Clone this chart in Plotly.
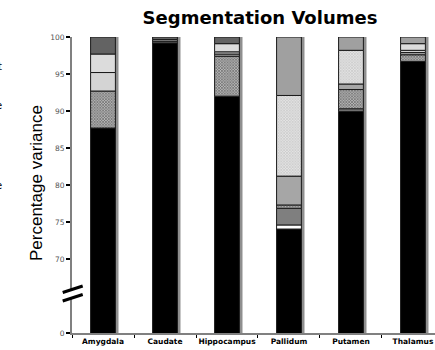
import numpy as np
import plotly.graph_objects as go

regions = ["Amygdala", "Caudate", "Hippocampus", "Pallidum", "Putamen", "Thalamus"]

# stacked components, bottom to top (percentage of variance)
comp_black      = [87.7, 99.2, 92.0, 74.05, 89.95, 96.7]
comp_white      = [0.0, 0.15, 0.0, 0.55, 0.0, 0.0]
comp_gray       = [0.0, 0.0, 0.0, 2.25, 0.35, 0.0]
comp_checker    = [5.0, 0.1, 5.4, 0.45, 2.6, 0.9]
comp_midgray    = [0.0, 0.0, 0.3, 3.9, 0.75, 0.3]
comp_lightcheck = [0.0, 0.0, 0.0, 10.9, 4.55, 0.0]
comp_light1     = [2.5, 0.2, 0.3, 0.0, 0.0, 0.3]
comp_light2     = [2.5, 0.0, 1.1, 0.0, 0.0, 0.9]
comp_silver     = [0.0, 0.0, 0.0, 7.9, 1.8, 0.9]
comp_dark       = [2.3, 0.35, 0.9, 0.0, 0.0, 0.0]

y_tick_vals = [60, 70, 75, 80, 85, 90, 95, 100]
y_tick_text = ["0", "70", "75", "80", "85", "90", "95", "100"]

components = [
    (comp_black, dict(color="#000000")),
    (comp_white, dict(color="#ffffff")),
    (comp_gray, dict(color="#7f7f7f")),
    (comp_checker, dict(color="#a0a0a0", pattern=dict(shape="x", size=2, solidity=0.5,
                                                       fgcolor="#000000", bgcolor="#b8b8b8"))),
    (comp_midgray, dict(color="#a6a6a6")),
    (comp_lightcheck, dict(color="#dcdcdc", pattern=dict(shape="x", size=2, solidity=0.5,
                                                          fgcolor="#a0a0a0", bgcolor="#e4e4e4"))),
    (comp_light1, dict(color="#d4d4d4")),
    (comp_light2, dict(color="#dcdcdc")),
    (comp_silver, dict(color="#a0a0a0")),
    (comp_dark, dict(color="#636363")),
]

fig = go.Figure()

# bar shadows
totals = np.sum([c[0] for c in components], axis=0)
fig.add_trace(go.Bar(x=regions, y=totals, base=0, width=0.4, offset=-0.2 + 0.05,
                     marker=dict(color="#8f8f8f", line=dict(width=0)),
                     hoverinfo="skip", showlegend=False))

cum = np.zeros(len(regions))
for vals, mk in components:
    vals = np.array(vals, dtype=float)
    ys = [v if v > 0 else None for v in vals]
    mk = dict(mk)
    mk["line"] = dict(color="#1a1a1a", width=1)
    fig.add_trace(go.Bar(x=regions, y=ys, base=cum.copy(), width=0.4, offset=-0.2,
                         marker=mk, showlegend=False))
    cum += vals

W, H = 435, 350
ml, mr, mt, mb = 72, 0, 37, 17
pw = W - ml - mr
ph = H - mt - mb

def px_x(p):
    return (p - ml) / pw

def px_y(p):
    return (H - mb - p) / ph

# axis break marks
brk = [((62.7, 292.5), (82.7, 286.0)), ((62.7, 301.0), (82.7, 294.5))]
fig.add_shape(type="path",
              path="M {} {} L {} {} L {} {} L {} {} Z".format(
                  px_x(62.7), px_y(292.5), px_x(82.7), px_y(286.0),
                  px_x(82.7), px_y(294.5), px_x(62.7), px_y(301.0)),
              xref="paper", yref="paper", fillcolor="white", line=dict(width=0), layer="above")
for (a, b) in brk:
    fig.add_shape(type="line", xref="paper", yref="paper",
                  x0=px_x(a[0]), y0=px_y(a[1]), x1=px_x(b[0]), y1=px_y(b[1]),
                  line=dict(color="black", width=3), layer="above")

# y axis title
fig.add_annotation(text="Percentage variance", xref="paper", yref="paper",
                   x=px_x(36), y=px_y(183), textangle=-90, showarrow=False,
                   font=dict(family="Liberation Sans, Arial", size=17, color="#000"),
                   xanchor="center", yanchor="middle")

# clipped text fragments at the left edge
for t, py in [("t", 66), ("e", 105), ("e", 185)]:
    fig.add_annotation(text=t, xref="paper", yref="paper", x=px_x(3.5), y=px_y(py),
                       showarrow=False, xanchor="right", yanchor="middle",
                       font=dict(family="DejaVu Sans", size=10, color="#000000"))

fig.update_layout(
    width=W, height=H,
    margin=dict(l=ml, r=mr, t=mt, b=mb),
    barmode="overlay",
    plot_bgcolor="white", paper_bgcolor="white",
    title=dict(text="<b>Segmentation Volumes</b>", x=260 / W, xanchor="center",
               yref="container", y=1 - 18 / H, yanchor="middle",
               font=dict(family="DejaVu Sans", size=18, color="#000")),
    xaxis=dict(type="category", range=[-0.5, 5.355], showline=True, linecolor="#808080",
               linewidth=2, ticks="outside", tickson="boundaries", ticklen=3,
               tickcolor="#000", tickwidth=1, tickangle=0,
               tickfont=dict(family="DejaVu Sans", size=7.5, color="#000", weight="bold"),
               showgrid=False, zeroline=False),
    yaxis=dict(range=[60, 100], tickvals=y_tick_vals, ticktext=y_tick_text,
               showline=True, linecolor="#808080", linewidth=2, ticks="outside",
               ticklen=4, tickwidth=2, tickcolor="#000",
               tickfont=dict(family="DejaVu Sans", size=7.5, color="#555"),
               showgrid=False, zeroline=False),
)

fig.write_html("out.html", post_script="document.body.style.margin='0';",
               config={"displayModeBar": False})
